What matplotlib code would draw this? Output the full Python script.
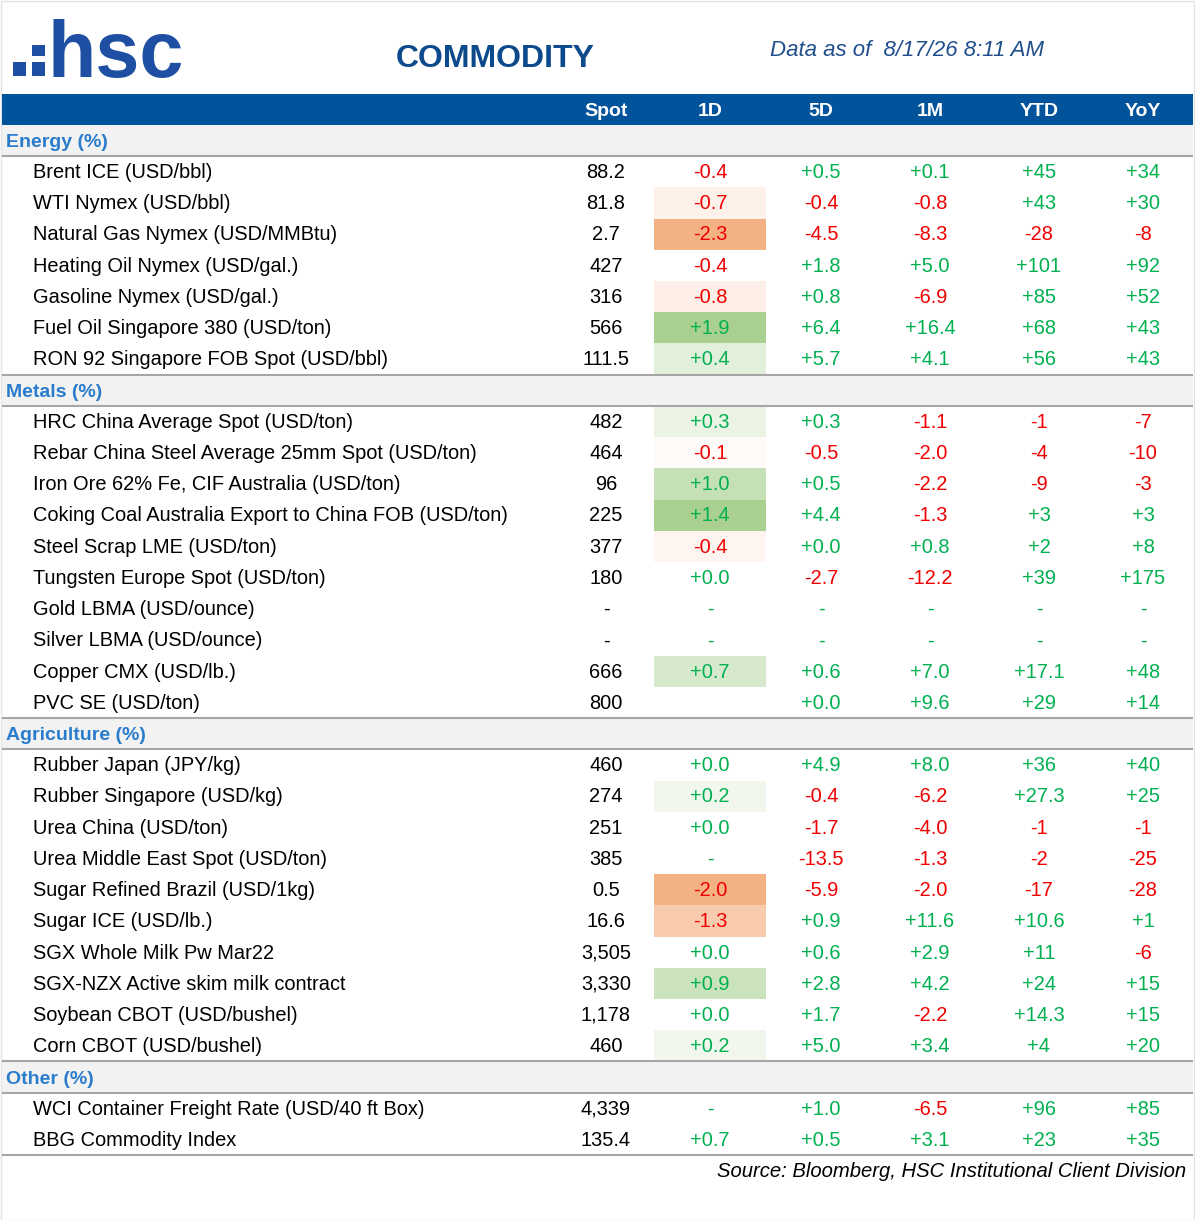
import numpy as np
import matplotlib
matplotlib.use("Agg")
import matplotlib.pyplot as plt
from matplotlib.patches import Rectangle
from matplotlib.colors import to_rgb, to_hex

# ---- data (nan = "-", None = blank cell) ----
nan = np.nan
groups = ["Energy (%)", "Metals (%)", "Agriculture (%)", "Other (%)"]

energy_names = ["Brent ICE (USD/bbl)", "WTI Nymex (USD/bbl)", "Natural Gas Nymex (USD/MMBtu)",
                "Heating Oil Nymex (USD/gal.)", "Gasoline Nymex (USD/gal.)",
                "Fuel Oil Singapore 380 (USD/ton)", "RON 92 Singapore FOB Spot (USD/bbl)"]
energy_spot = [88.2, 81.8, 2.7, 427, 316, 566, 111.5]
energy_1d = [-0.4, -0.7, -2.3, -0.4, -0.8, 1.9, 0.4]
energy_5d = [0.5, -0.4, -4.5, 1.8, 0.8, 6.4, 5.7]
energy_1m = [0.1, -0.8, -8.3, 5.0, -6.9, 16.4, 4.1]
energy_ytd = [45, 43, -28, 101, 85, 68, 56]
energy_yoy = [34, 30, -8, 92, 52, 43, 43]

metals_names = ["HRC China Average Spot (USD/ton)", "Rebar China Steel Average 25mm Spot (USD/ton)",
                "Iron Ore 62% Fe, CIF Australia (USD/ton)",
                "Coking Coal Australia Export to China FOB (USD/ton)", "Steel Scrap LME (USD/ton)",
                "Tungsten Europe Spot (USD/ton)", "Gold LBMA (USD/ounce)", "Silver LBMA (USD/ounce)",
                "Copper CMX (USD/lb.)", "PVC SE (USD/ton)"]
metals_spot = [482, 464, 96, 225, 377, 180, nan, nan, 666, 800]
metals_1d = [0.3, -0.1, 1.0, 1.4, -0.4, 0.0, nan, nan, 0.7, None]
metals_5d = [0.3, -0.5, 0.5, 4.4, 0.0, -2.7, nan, nan, 0.6, 0.0]
metals_1m = [-1.1, -2.0, -2.2, -1.3, 0.8, -12.2, nan, nan, 7.0, 9.6]
metals_ytd = [-1, -4, -9, 3, 2, 39, nan, nan, 17.1, 29]
metals_yoy = [-7, -10, -3, 3, 8, 175, nan, nan, 48, 14]

agri_names = ["Rubber Japan (JPY/kg)", "Rubber Singapore (USD/kg)", "Urea China (USD/ton)",
              "Urea Middle East Spot (USD/ton)", "Sugar Refined Brazil (USD/1kg)", "Sugar ICE (USD/lb.)",
              "SGX Whole Milk Pw Mar22", "SGX-NZX Active skim milk contract",
              "Soybean CBOT (USD/bushel)", "Corn CBOT (USD/bushel)"]
agri_spot = [460, 274, 251, 385, 0.5, 16.6, 3505, 3330, 1178, 460]
agri_1d = [0.0, 0.2, 0.0, nan, -2.0, -1.3, 0.0, 0.9, 0.0, 0.2]
agri_5d = [4.9, -0.4, -1.7, -13.5, -5.9, 0.9, 0.6, 2.8, 1.7, 5.0]
agri_1m = [8.0, -6.2, -4.0, -1.3, -2.0, 11.6, 2.9, 4.2, -2.2, 3.4]
agri_ytd = [36, 27.3, -1, -2, -17, 10.6, 11, 24, 14.3, 4]
agri_yoy = [40, 25, -1, -25, -28, 1, -6, 15, 15, 20]

other_names = ["WCI Container Freight Rate (USD/40 ft Box)", "BBG Commodity Index"]
other_spot = [4339, 135.4]
other_1d = [nan, 0.7]
other_5d = [1.0, 0.5]
other_1m = [-6.5, 3.1]
other_ytd = [96, 23]
other_yoy = [85, 35]

# 1D cells left without fill in the source sheet
no_fill = ["Brent ICE (USD/bbl)", "Heating Oil Nymex (USD/gal.)", "BBG Commodity Index"]

columns = ["Spot", "1D", "5D", "1M", "YTD", "YoY"]
col_x = [606, 710, 821, 930, 1039, 1143]

sections = [
    (energy_names, energy_spot, energy_1d, energy_5d, energy_1m, energy_ytd, energy_yoy),
    (metals_names, metals_spot, metals_1d, metals_5d, metals_1m, metals_ytd, metals_yoy),
    (agri_names, agri_spot, agri_1d, agri_5d, agri_1m, agri_ytd, agri_yoy),
    (other_names, other_spot, other_1d, other_5d, other_1m, other_ytd, other_yoy),
]

# ---- style ----
BLUE_BAR = "#01539b"
SEC_BLUE = "#2a7ccc"
GREEN = "#00b050"
RED = "#f00000"
LINE = "#a6a6a6"
BAND = "#f2f2f2"
FONT = ["Liberation Sans", "DejaVu Sans"]
FS = 14.4

# heat scale control points for the 1D column
neg_pts = [(-2.0, "#f4b183"), (-1.3, "#f8cbad"), (-0.8, "#fdefe7"), (-0.1, "#fefaf7"), (0.0, "#ffffff")]
pos_pts = [(0.0, "#ffffff"), (0.2, "#f1f7ed"), (0.4, "#e2efda"), (0.7, "#d7e9cd"), (1.0, "#c5e0b4"), (1.4, "#a9d08e")]


def heat_color(v):
    pts = neg_pts if v < 0 else pos_pts
    xs = [p[0] for p in pts]
    cs = np.array([to_rgb(p[1]) for p in pts])
    v = min(max(v, xs[0]), xs[-1])
    return to_hex([np.interp(v, xs, cs[:, i]) for i in range(3)])


def fmt_spot(v):
    if v is None:
        return ""
    if np.isnan(v):
        return "-"
    return format(v, ",g")


def fmt_chg(v, dec):
    if v is None:
        return ""
    if np.isnan(v):
        return "-"
    return f"{v:+.1f}" if dec else format(v, "+g")


W, H = 1195, 1220
fig = plt.figure(figsize=(W / 100, H / 100), dpi=100)
ax = fig.add_axes([0, 0, 1, 1])
ax.set_xlim(0, W)
ax.set_ylim(H, 0)
ax.axis("off")

ax.add_patch(Rectangle((0.5, 0.5), W - 1, H - 1, fill=False, ec="#e3e3e3", lw=1))

# logo
logo_c = "#1e4fa3"
ax.add_patch(Rectangle((13, 62), 13, 14, color=logo_c, lw=0))
ax.add_patch(Rectangle((32, 45), 13, 11, color=logo_c, lw=0))
ax.add_patch(Rectangle((32, 62), 13, 14, color=logo_c, lw=0))
ax.text(48, 77, "hsc", fontsize=57, fontweight="bold", color=logo_c, family=FONT,
        ha="left", va="baseline")

ax.text(495, 67, "COMMODITY", fontsize=23, fontweight="bold", color="#0d4a8c",
        family=FONT, ha="center", va="baseline")
ax.text(907, 56, "Data as of  8/17/26 8:11 AM", fontsize=16, style="italic", color="#1f4e8c",
        family=FONT, ha="center", va="baseline")

# header bar
ax.add_patch(Rectangle((2, 94), W - 4, 31.5, color=BLUE_BAR, lw=0))
for c, x in zip(columns, col_x):
    ax.text(x, 116, c, fontsize=14, fontweight="bold", color="white", family=FONT,
            ha="center", va="baseline")

pitch = 31.22
y0 = 140.5
k = 0
half = pitch / 2
off = 6.3
for gi, (g, sec) in enumerate(zip(groups, sections)):
    names, spot, d1, d5, m1, ytd, yoy = sec
    yc = y0 + k * pitch
    ax.add_patch(Rectangle((2, yc - half), W - 4, pitch, color=BAND, lw=0))
    if gi > 0:
        ax.plot([2, W - 2], [yc - half, yc - half], color=LINE, lw=1.5, solid_capstyle="butt")
    ax.plot([2, W - 2], [yc + half, yc + half], color=LINE, lw=1.5, solid_capstyle="butt")
    ax.text(6, yc + 6.8, g, fontsize=14, fontweight="bold", color=SEC_BLUE, family=FONT,
            ha="left", va="baseline")
    k += 1
    for i, name in enumerate(names):
        yc = y0 + k * pitch
        v1 = d1[i]
        if g != "Other (%)" and v1 is not None and not np.isnan(v1) and name not in no_fill and v1 != 0:
            ax.add_patch(Rectangle((654, yc - half), 112, pitch, color=heat_color(v1), lw=0))
        ax.text(33, yc + off, name, fontsize=FS, color="black", family=FONT,
                ha="left", va="baseline")
        ax.text(col_x[0], yc + off, fmt_spot(spot[i]), fontsize=FS, color="black",
                family=FONT, ha="center", va="baseline")
        for j, (vals, dec) in enumerate([(d1, True), (d5, True), (m1, True), (ytd, False), (yoy, False)]):
            v = vals[i]
            col = RED if (v is not None and not np.isnan(v) and v < 0) else GREEN
            ax.text(col_x[j + 1], yc + off, fmt_chg(v, dec), fontsize=FS, color=col,
                    family=FONT, ha="center", va="baseline")
        k += 1

y_end = y0 + (k - 1) * pitch + half
ax.plot([2, W - 2], [y_end, y_end], color=LINE, lw=1.5, solid_capstyle="butt")
ax.text(1186, 1177, "Source: Bloomberg, HSC Institutional Client Division", fontsize=14.6,
        style="italic", color="black", family=FONT, ha="right", va="baseline")

fig.savefig("out.png", dpi=100, facecolor="white")
